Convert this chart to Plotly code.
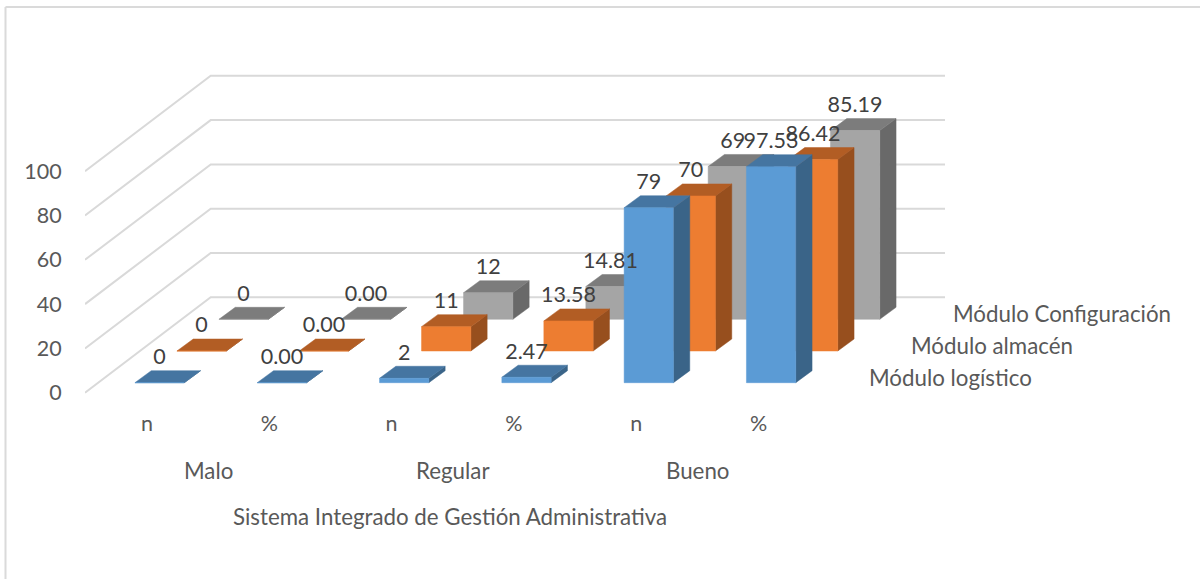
import plotly.graph_objects as go

# ---- data ----
categories = ["n", "%", "n", "%", "n", "%"]
groups = ["Malo", "Regular", "Bueno"]
series_names = ["Módulo logístico", "Módulo almacén", "Módulo Configuración"]
modulo_logistico = [0, 0.00, 2, 2.47, 79, 97.53]
modulo_almacen = [0, 0.00, 11, 13.58, 70, 86.42]
modulo_configuracion = [0, 0.00, 12, 14.81, 69, 85.19]
value_ticks = [0, 20, 40, 60, 80, 100]
axis_title = "Sistema Integrado de Gestión Administrativa"

# ---- oblique projection (canvas metrics) ----
W, H = 1200, 579
L, R, T, B = 85, 945, 60, 403        # plot area in px
STEP = 122.3                          # px per category
UNIT = 2.215                          # px per value unit
X0 = 147                              # px of first category
Y0 = 392.7                            # px of value 0 on the front edge

xmin, xmax = (L - X0) / STEP, (R - X0) / STEP
ymin, ymax = (Y0 - B) / UNIT, (Y0 - T) / UNIT


def paper_x(p):
    return (p - L) / (R - L)


def paper_y(p):
    return (B - p) / (B - T)


HALF = 24.65 / STEP       # half width of a bar
CENTER = 12.6 / STEP      # bar centre relative to its tick
SIDE_X = 16.3 / STEP      # depth of a bar
SIDE_Y = 12.0 / UNIT
SHIFT_X = 42.0 / STEP     # shift from one series to the next
SHIFT_Y = 31.7 / UNIT
BASE0 = 10.0 / UNIT       # first series floor height
WALL_X = 125.7 / STEP     # side wall depth
WALL_Y = 95.4 / UNIT
LABEL_UP = 24.0 / UNIT

palette = [
    dict(front="#5B9BD5", top="#4575A1", side="#3A6488"),
    dict(front="#ED7D31", top="#B25D24", side="#974F1E"),
    dict(front="#A5A5A5", top="#7C7C7C", side="#696969"),
]
FONT = "Lato"
FS = 21.5
FS_AXIS = 22.3
TEXT_DARK = "#404040"
TEXT_AXIS = "#595959"
GRID = "#D9D9D9"
series_values = [modulo_logistico, modulo_almacen, modulo_configuracion]

fig = go.Figure()

# walls' gridlines
gx, gy = [], []
for v in value_ticks:
    gx += [xmin, xmin + WALL_X, xmax, None]
    gy += [v, v + WALL_Y, v + WALL_Y, None]
fig.add_trace(go.Scatter(x=gx, y=gy, mode="lines", cliponaxis=False, hoverinfo="skip",
                         line=dict(color=GRID, width=2), showlegend=False))


def poly(xs, ys, color, name):
    return go.Scatter(x=xs, y=ys, mode="lines", fill="toself", fillcolor=color,
                      line=dict(color=color, width=0.5), hoverinfo="skip",
                      name=name, showlegend=False, cliponaxis=False)


# bars: back series first, so the front series covers them
for k in (2, 1, 0):
    vals = series_values[k]
    base = BASE0 + k * SHIFT_Y
    fx, fy, tx, ty, sx, sy = [], [], [], [], [], []
    for i, v in enumerate(vals):
        c = i + CENTER + k * SHIFT_X
        a, b = c - HALF, c + HALF
        top = base + v
        fx += [a, b, b, a, a, None]
        fy += [base, base, top, top, base, None]
        tx += [a, b, b + SIDE_X, a + SIDE_X, a, None]
        ty += [top, top, top + SIDE_Y, top + SIDE_Y, top, None]
        sx += [b, b + SIDE_X, b + SIDE_X, b, b, None]
        sy += [base, base + SIDE_Y, top + SIDE_Y, top, base, None]
    fig.add_trace(poly(sx, sy, palette[k]["side"], series_names[k] + " lateral"))
    fig.add_trace(poly(tx, ty, palette[k]["top"], series_names[k] + " superior"))
    fig.add_trace(poly(fx, fy, palette[k]["front"], series_names[k]))

# data labels above everything
for k in (2, 1, 0):
    vals = series_values[k]
    base = BASE0 + k * SHIFT_Y
    labels = []
    for i, v in enumerate(vals):
        if categories[i] == "n":
            labels.append(str(v))
        else:
            labels.append(f"{v:.2f}")
    fig.add_trace(go.Scatter(
        x=[i + CENTER + k * SHIFT_X for i in range(len(vals))],
        y=[base + v + LABEL_UP for v in vals],
        mode="text", text=labels, textposition="middle center", cliponaxis=False,
        textfont=dict(family=FONT, size=FS, color=TEXT_DARK),
        hoverinfo="skip", showlegend=False, name=series_names[k] + " etiquetas"))

annotations = []
group_centres = [208, 453, 697]
for g, gc in zip(groups, group_centres):
    annotations.append(dict(x=paper_x(gc), y=paper_y(470), xref="paper", yref="paper", text=g,
                            showarrow=False, xanchor="center", yanchor="middle",
                            font=dict(family=FONT, size=FS_AXIS, color=TEXT_AXIS)))
annotations.append(dict(x=paper_x(450), y=paper_y(516), xref="paper", yref="paper", text=axis_title,
                        showarrow=False, xanchor="center", yanchor="middle",
                        font=dict(family=FONT, size=FS_AXIS, color=TEXT_AXIS)))
series_left = [867, 909, 950.5]
series_y = [377, 345, 313]
for name, lx, ly in zip(series_names, series_left, series_y):
    annotations.append(dict(x=paper_x(lx), y=paper_y(ly), xref="paper", yref="paper", text=name,
                            showarrow=False, xanchor="left", yanchor="middle",
                            font=dict(family=FONT, size=FS_AXIS, color=TEXT_AXIS)))

# chart frame: top and left edge
shapes = [
    dict(type="line", xref="paper", yref="paper", x0=paper_x(5.5), x1=paper_x(1200),
         y0=paper_y(7), y1=paper_y(7), line=dict(color="#DADADA", width=2)),
    dict(type="line", xref="paper", yref="paper", x0=paper_x(5.5), x1=paper_x(5.5),
         y0=paper_y(7), y1=paper_y(579), line=dict(color="#DADADA", width=2)),
]

fig.update_layout(
    width=W, height=H, autosize=False, showlegend=False,
    paper_bgcolor="white", plot_bgcolor="white",
    margin=dict(l=L, r=W - R, t=T, b=H - B, pad=0),
    annotations=annotations, shapes=shapes,
    xaxis=dict(range=[xmin, xmax], tickmode="array", tickvals=list(range(len(categories))),
               ticktext=categories, showgrid=False, zeroline=False, showline=False,
               ticks="outside", ticklen=1, tickcolor="rgba(0,0,0,0)", fixedrange=True,
               tickfont=dict(family=FONT, size=FS, color=TEXT_AXIS)),
    yaxis=dict(range=[ymin, ymax], tickmode="array", tickvals=value_ticks,
               showgrid=False, zeroline=False, showline=False,
               ticks="outside", ticklen=18, tickcolor="rgba(0,0,0,0)", fixedrange=True,
               tickfont=dict(family=FONT, size=FS, color=TEXT_AXIS)),
)

fig.write_html("out.html", config={"displayModeBar": False},
               post_script="document.body.style.margin='0';")
